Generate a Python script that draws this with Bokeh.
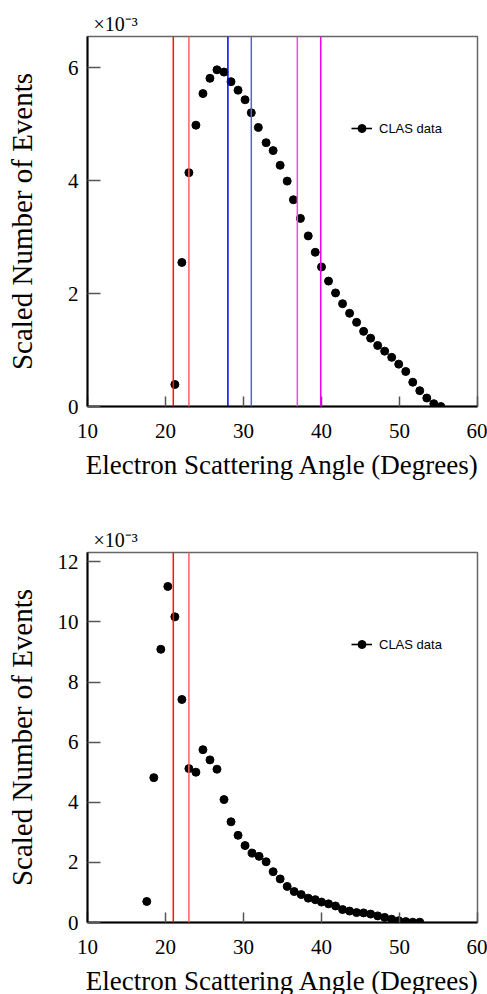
from bokeh.plotting import figure
from bokeh.layouts import column
from bokeh.models import Span, Legend, LegendItem, Range1d, FixedTicker, ColumnDataSource, Title
from bokeh.embed import file_html
from bokeh.resources import INLINE

# ---- data (values in units of 1e-3) ----
top_angle = [21.2, 22.1, 23.0, 23.9, 24.8, 25.7, 26.6, 27.5, 28.4, 29.3, 30.2, 31.0, 31.9,
             32.9, 33.8, 34.7, 35.6, 36.4, 37.3, 38.3, 39.2, 40.0, 40.9, 41.8, 42.7, 43.6,
             44.5, 45.4, 46.3, 47.2, 48.1, 49.0, 49.9, 50.8, 51.7, 52.6, 53.5, 54.4, 55.3]
top_events = [0.39, 2.55, 4.14, 4.98, 5.54, 5.81, 5.96, 5.92, 5.75, 5.60, 5.43, 5.20, 4.94,
              4.67, 4.53, 4.27, 3.99, 3.66, 3.33, 3.02, 2.73, 2.47, 2.22, 2.01, 1.82, 1.65,
              1.49, 1.33, 1.21, 1.08, 0.98, 0.87, 0.75, 0.62, 0.43, 0.28, 0.15, 0.05, 0.0]
top_lines = [21.0, 23.0, 28.0, 31.0, 36.9, 39.9]
top_line_colors = ["#ff1010", "#ff6060", "#0000ff", "#5a5aff", "#ff40ff", "#ee00ee"]

bot_angle = [17.6, 18.5, 19.4, 20.3, 21.2, 22.1, 23.0, 23.9, 24.8, 25.7, 26.6, 27.5, 28.4,
             29.3, 30.2, 31.1, 32.0, 32.9, 33.8, 34.7, 35.6, 36.5, 37.4, 38.3, 39.2, 40.0,
             40.9, 41.8, 42.7, 43.6, 44.5, 45.4, 46.3, 47.2, 48.1, 49.0, 49.9, 50.8, 51.7, 52.6]
bot_events = [0.70, 4.82, 9.09, 11.18, 10.17, 7.42, 5.12, 5.00, 5.75, 5.41, 5.10, 4.09, 3.35,
              2.90, 2.56, 2.31, 2.20, 2.02, 1.69, 1.45, 1.20, 1.03, 0.93, 0.81, 0.76, 0.68,
              0.62, 0.55, 0.43, 0.38, 0.33, 0.32, 0.28, 0.22, 0.17, 0.11, 0.06, 0.03, 0.01, 0.01]
bot_lines = [21.0, 23.0]
bot_line_colors = ["#ff1010", "#ff6060"]

x_ticks = [10, 20, 30, 40, 50, 60]
top_y_ticks = [0, 2, 4, 6]
bot_y_ticks = [0, 2, 4, 6, 8, 10, 12]

x_title = "Electron Scattering Angle (Degrees)"
y_title = "Scaled Number of Events"
legend_label = "CLAS data"
scale_text = "\u00d710\u207b\u00b3"

SERIF = "Liberation Serif"


def make_plot(xs, ys, ymax, yticks, lines, colors, top_border, bottom_border, ylab_standoff):
    ttl = Title(text=scale_text, align="left", offset=6, standoff=4,
                text_font=SERIF, text_font_size="20px", text_font_style="normal",
                text_color="black")
    p = figure(frame_width=390, frame_height=370, output_backend="svg", toolbar_location=None,
               x_range=Range1d(10, 60), y_range=Range1d(0, ymax),
               min_border_left=87, min_border_right=10,
               min_border_top=top_border, min_border_bottom=bottom_border,
               title=ttl)

    p.background_fill_color = "white"
    p.border_fill_color = "white"
    p.xgrid.visible = False
    p.ygrid.visible = False
    p.outline_line_color = "#666666"
    p.outline_line_width = 1.5

    for v, c in zip(lines, colors):
        p.add_layout(Span(location=v, dimension="height", line_color=c, line_width=1.5))

    src = ColumnDataSource(dict(x=xs, y=ys))
    sr = p.scatter("x", "y", source=src, size=8, color="black")
    # single-point line: draws nothing in the frame, only provides the legend line
    lr = p.line(x=xs[:1], y=ys[:1], line_color="black", line_width=1.6)

    leg = Legend(items=[LegendItem(label=legend_label, renderers=[lr, sr])],
                 location=(264, 268), border_line_color=None, background_fill_alpha=0,
                 padding=0, margin=0, spacing=0, glyph_width=21, glyph_height=20,
                 label_standoff=7, label_text_font="Liberation Sans", label_text_font_size="13px",
                 label_text_color="black")
    p.add_layout(leg)

    for ax in (p.xaxis[0], p.yaxis[0]):
        ax.axis_line_color = "black"
        ax.axis_line_width = 2
        ax.major_tick_line_color = "#555555"
        ax.major_tick_line_width = 1.5
        ax.major_tick_out = 0
        ax.minor_tick_line_color = None
        ax.major_label_text_font = SERIF
        ax.major_label_text_font_size = "21px"
        ax.major_label_text_color = "black"
        ax.axis_label_text_font = SERIF
        ax.axis_label_text_font_style = "normal"
        ax.axis_label_text_color = "black"

    p.xaxis.axis_label_text_font_size = "27px"
    p.yaxis.axis_label_text_font_size = "29px"
    p.xaxis.ticker = FixedTicker(ticks=x_ticks)
    p.yaxis.ticker = FixedTicker(ticks=yticks)
    p.xaxis.major_tick_in = 10
    p.yaxis.major_tick_in = 13
    p.xaxis.major_label_standoff = 17
    p.yaxis.major_label_standoff = 9
    p.xaxis.axis_label = x_title
    p.yaxis.axis_label = y_title
    p.xaxis.axis_label_standoff = 9
    p.yaxis.axis_label_standoff = ylab_standoff
    return p


p1 = make_plot(top_angle, top_events, 6.55, top_y_ticks, top_lines, top_line_colors, 36, 91, 27)
p2 = make_plot(bot_angle, bot_events, 12.31, bot_y_ticks, bot_lines, bot_line_colors, 55, 72, 17)

layout = column(p1, p2, spacing=0)
open("out.html", "w").write(file_html(layout, INLINE))
